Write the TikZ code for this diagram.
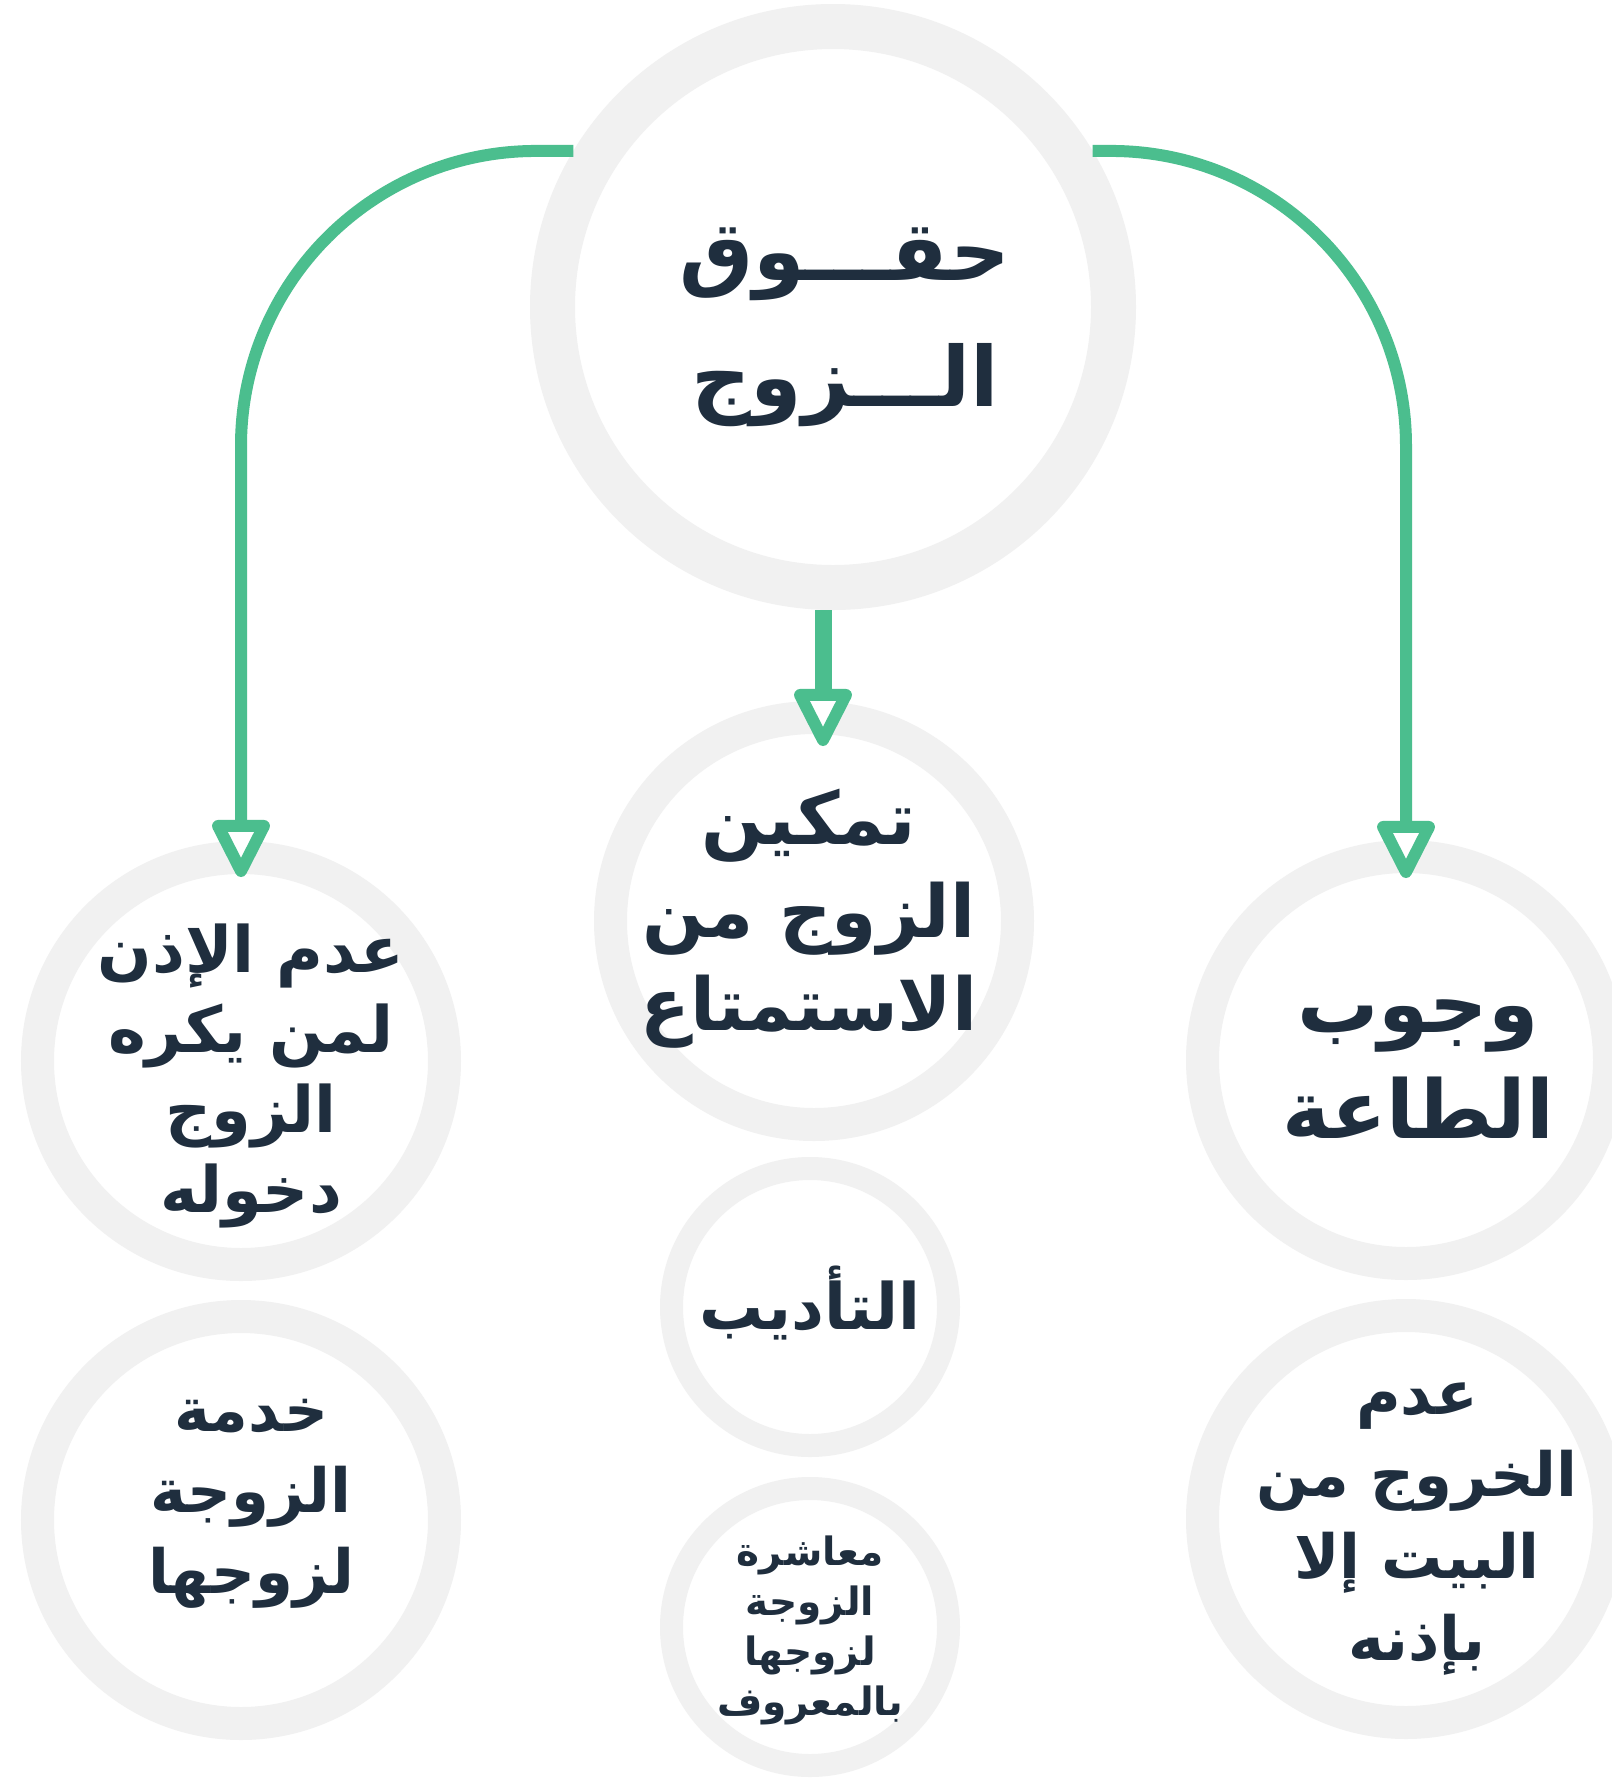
\documentclass[tikz,border=0pt]{standalone}
\usepackage{fontspec}
\usetikzlibrary{arrows.meta, positioning, calc}
\TeXXeTstate=1
\newfontfamily\arabicfont[Script=Arabic]{DejaVu Sans}
\definecolor{leaf}{HTML}{4BBE8E}
\definecolor{ringgray}{HTML}{F1F1F1}
\definecolor{ink}{HTML}{1F2E3E}
\newcommand{\ar}[1]{\beginR #1\endR}
\newcommand{\arsize}[2]{\arabicfont\bfseries\fontsize{#1}{#2}\selectfont}

\begin{document}
\begin{tikzpicture}[
    x=0.5pt, y=-0.5pt,
    ring/.style={circle, draw=ringgray, fill=white, inner sep=0pt},
    bigring/.style={ring, line width=22.5pt, minimum size=280.5pt},
    midring/.style={ring, line width=16.5pt, minimum size=203.5pt},
    smallring/.style={ring, line width=11.5pt, minimum size=138.5pt},
    txt/.style={text=ink, align=center, inner sep=0pt},
    link/.style={draw=leaf, line width=6pt, rounded corners=147.5pt,
      -{Triangle[fill=white, round, line width=6pt, length=32.5pt, width=31pt]}}
  ]
  \useasboundingbox[fill=white] (0,0) rectangle (1612,1779);

  % --- circles ---
  \node[bigring] (top) at (833,307) {};
  \node[midring] (mid) at (814,921) {};
  \node[midring] (left) at (241,1061) {};
  \node[midring] (right) at (1406,1060) {};
  \node[midring] (lowleft) at (241,1520) {};
  \node[midring] (lowright) at (1406,1519) {};
  \node[smallring] (adab) at (810,1307) {};
  \node[smallring] (ishra) at (810,1627) {};

  % --- texts ---
  \node[txt, font=\arsize{41.5}{63}] (toptext) at ($(top)+(12,20)$)
    {\ar{حقـــوق}\\\ar{الـــزوج}};
  \node[txt, font=\arsize{36.5}{46.5}] (midtext) at ($(mid)+(-5,-2)$)
    {\ar{تمكين}\\\ar{الزوج من}\\\ar{الاستمتاع}};
  \node[txt, font=\arsize{32}{40}] (lefttext) at ($(left)+(10,15)$)
    {\ar{عدم الإذن}\\\ar{لمن يكره}\\\ar{الزوج}\\\ar{دخوله}};
  \node[txt, font=\arsize{40.5}{53}] (righttext) at ($(right)+(12,9)$)
    {\ar{وجوب}\\\ar{الطاعة}};
  \node[txt, font=\arsize{30.5}{40.5}] (lowlefttext) at ($(lowleft)+(10,-16)$)
    {\ar{خدمة}\\\ar{الزوجة}\\\ar{لزوجها}};
  \node[txt, font=\arsize{30.5}{41}] (lowrighttext) at ($(lowright)+(11,10)$)
    {\ar{عدم}\\\ar{الخروج من}\\\ar{البيت إلا}\\\ar{بإذنه}};
  \node[txt, font=\arsize{32}{40}] (adabtext) at ($(adab)+(0,-4)$)
    {\ar{التأديب}};
  \node[txt, font=\arsize{19.5}{25}] (ishratext) at ($(ishra)+(0,3)$)
    {\ar{معاشرة}\\\ar{الزوجة}\\\ar{لزوجها}\\\ar{بالمعروف}};

  % --- arrows ---
  \coordinate (tipm) at ([xshift=4.5pt,yshift=-22.5pt]mid.north);
  \draw[link] (top.149) -| ([yshift=-18pt]left.north);
  \draw[link] (top.31) -| ([yshift=-19pt]right.north);
  \draw[link, line width=8.5pt] (top.south -| tipm) -- (tipm);

\end{tikzpicture}
\end{document}
